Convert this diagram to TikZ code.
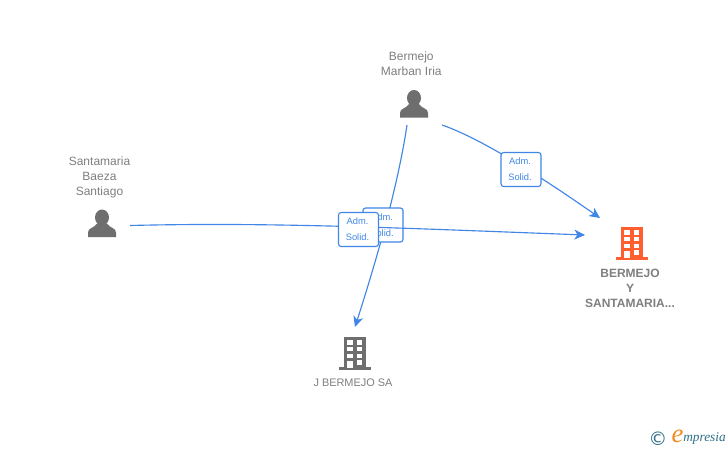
\documentclass[tikz,border=0pt]{standalone}
\usepackage{fontspec}
\setmainfont{Liberation Sans}
\usetikzlibrary{arrows.meta}
\definecolor{linkblue}{HTML}{3F86E6}
\definecolor{icongrey}{HTML}{6E6E6E}
\definecolor{textgrey}{HTML}{7F7F7F}
\definecolor{orangebld}{HTML}{FF5F2E}
\definecolor{logoteal}{HTML}{2F6F86}
\definecolor{logoorange}{HTML}{F28C1E}
\tikzset{
  x=0.75pt,y=-0.75pt,
  link/.style={draw=linkblue,line width=0.85pt,-{Stealth[length=8pt,width=7.5pt,inset=2.4pt]}},
  rolebox/.style={draw=linkblue,line width=0.85pt,fill=white,rounded corners=2pt,minimum width=30pt,minimum height=25.5pt,inner sep=0pt,align=center,text=linkblue,font=\fontsize{7}{12.2}\selectfont},
  namelabel/.style={align=center,text=textgrey,inner sep=0pt,font=\fontsize{9}{11.2}\selectfont},
  boldlabel/.style={align=center,text=textgrey,inner sep=0pt,font=\bfseries\fontsize{9}{11.2}\selectfont},
  anchorpt/.style={inner sep=0pt,minimum size=0pt},
  person/.pic={
    \fill[icongrey] (0,-6) ellipse (7 and 8);
    \fill[icongrey] (-14,13.5) -- (-14,9) .. controls (-14,4) and (-8,5) .. (-5,0) -- (5,0) .. controls (8,5) and (14,4) .. (14,9) -- (14,13.5) -- cycle;
  },
  building/.pic={
    \fill[pic actions] (-10.5,-16.5) rectangle (11.5,14.5);
    \fill[pic actions] (-15,14) rectangle (16.5,17);
    \foreach \cx in {-4,5.3}{\foreach \cy in {-10.7,-4,3}{\fill[white] (\cx-2.6,\cy-2.2) rectangle (\cx+2.6,\cy+2.2);}}
    \fill[white] (-6.6,7.7) rectangle (-1.4,14.5);
    \fill[white] (2.7,7.1) rectangle (7.9,11.5);
  }
}
\begin{document}
\begin{tikzpicture}
\useasboundingbox (0,0) rectangle (728,450);
\fill[white] (0,0) rectangle (728,450);
% nodes
\node[anchorpt] (santa) at (102,223.5) {};
\node[anchorpt] (berm) at (414,104) {};
\node[anchorpt] (bys) at (631,243) {};
\node[anchorpt] (jb) at (354,353) {};
\pic at (santa) {person};
\pic at (berm) {person};
\pic[fill=orangebld] at (bys) {building};
\pic[fill=icongrey] at (jb) {building};
\node[namelabel] (santatxt) at (99.5,177) {Santamaria\\Baeza\\Santiago};
\node[namelabel] (bermtxt) at (411.3,63.5) {Bermejo\\Marban Iria};
\node[boldlabel] (bystxt) at (630,288) {BERMEJO\\Y\\SANTAMARIA...};
\node[namelabel,font=\fontsize{8.2}{10}\selectfont] (jbtxt) at (353,383) {J BERMEJO SA};
% connector ends
\coordinate (s1) at (130,225.5);
\coordinate (e1) at (585,235);
\coordinate (s2) at (407,125);
\coordinate (e2) at (355,327);
\coordinate (s3) at (442,125);
\coordinate (e3) at (600,218);
% connectors
\draw[link] (s2) .. controls (398,185) and (378,255) .. (e2);
\node[rolebox] (r2) at (383,225) {Adm.\hspace*{1.5pt}\\Solid.\hspace*{1.5pt}};
\draw[link] (s1) .. controls (270,222) and (400,228) .. (e1);
\node[rolebox] (r3) at (358.5,229.5) {Adm.\hspace*{1.5pt}\\Solid.\hspace*{1.5pt}};
\draw[link] (s3) .. controls (480,138) and (540,176) .. (e3);
\node[rolebox] (r1) at (521,169.5) {Adm.\hspace*{1.5pt}\\Solid.\hspace*{1.5pt}};
% logo
\node[anchorpt,text=logoteal] (copy) at (658,438.5) {\fontspec{DejaVu Sans}\fontsize{14}{14}\selectfont ©};
\node[anchorpt,text=logoorange] (logoe) at (677.5,436.5) {\fontspec{Liberation Serif}\itshape\fontsize{20}{20}\selectfont e};
\node[anchorpt,anchor=west,text=logoteal] (logot) at (683,438.5) {\fontspec{Liberation Serif}\itshape\fontsize{10}{11}\selectfont mpresia};
\end{tikzpicture}
\end{document}
